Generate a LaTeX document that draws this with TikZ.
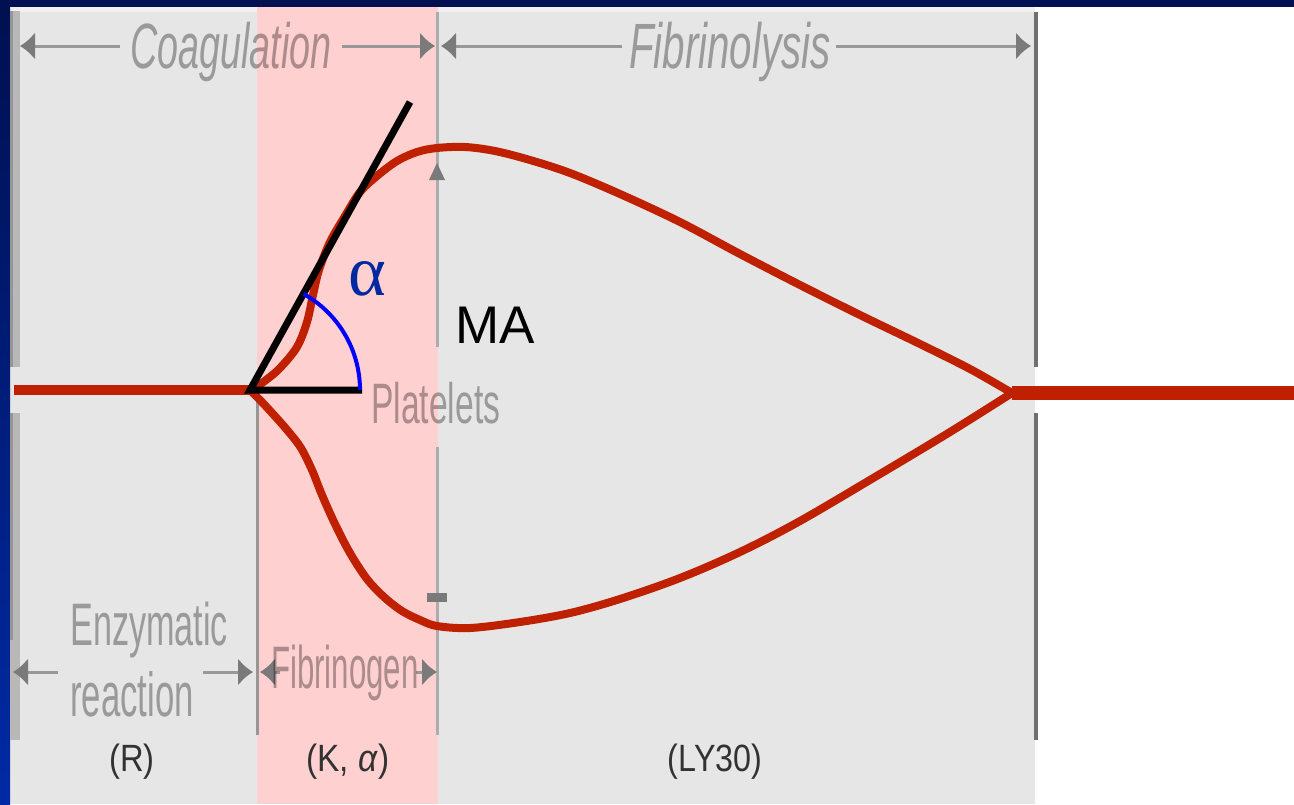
\documentclass[tikz,border=0pt]{standalone}
\usepackage{fontspec}
\setmainfont{Liberation Sans}
\newfontfamily\alphafont{Liberation Serif}
\usetikzlibrary{arrows.meta}
\definecolor{navy}{RGB}{0,16,80}
\definecolor{blueedge}{RGB}{0,42,165}
\definecolor{panel}{RGB}{230,230,230}
\definecolor{panellight}{RGB}{240,240,240}
\definecolor{pinkband}{RGB}{255,208,208}
\definecolor{curvered}{RGB}{190,32,0}
\definecolor{dimgray}{RGB}{152,152,152}
\definecolor{tipgray}{RGB}{122,122,122}
\definecolor{bargray}{RGB}{184,184,184}
\definecolor{bardark}{RGB}{150,150,150}
\definecolor{edgegray}{RGB}{112,112,112}
\definecolor{vlgray}{RGB}{172,172,172}
\definecolor{alphablue}{RGB}{0,40,160}
\definecolor{labeldark}{RGB}{50,50,50}
\begin{document}
\begin{tikzpicture}[x=1pt,y=-1pt,
  dimarrow/.style={draw=dimgray,line width=3pt,-{Latex[length=15pt,width=28pt,color=tipgray]}},
  faint/.style={inner sep=0pt,text=black,text opacity=0.33},
  lbl/.style={inner sep=0pt,text=labeldark,anchor=base},
  teg/.style={draw=curvered,line width=8pt,line join=round,line cap=round},
  tangent/.style={draw=black,line width=7pt},
  vline/.style={draw=vlgray,line width=3pt}]
\useasboundingbox (0,0) rectangle (1294,804);
% background
\fill[white] (0,0) rectangle (1294,804);
\fill[panel] (10,7) rectangle (1035,804);
\fill[panellight] (10,7) rectangle (1035,12);
\fill[pinkband] (257,7) rectangle (438,804);
\shade[top color=navy,bottom color=blueedge] (0,0) rectangle (10,804);
\fill[navy] (0,0) rectangle (1294,7);
% left and right edge bars
\fill[bargray] (10,11) rectangle (20,367);
\fill[bargray] (10,413) rectangle (20,740);
\fill[bardark] (10,11) rectangle (13,367);
\fill[bardark] (10,413) rectangle (13,640);
\fill[edgegray] (1034,12) rectangle (1038,367);
\fill[edgegray] (1034,413) rectangle (1038,740);
% vertical guide lines
\coordinate (k0) at (257,398);
\coordinate (k1) at (257,735);
\draw[vline,draw=bardark] (k0) -- (k1);
\coordinate (m0) at (437,12);
\coordinate (m1) at (437,347);
\coordinate (m2) at (437,447);
\coordinate (m3) at (437,735);
\draw[vline] (m0) -- (m1);
\draw[vline] (m2) -- (m3);
% MA arrow tips
\fill[tipgray] (437,163) -- (445,180) -- (429,180) -- cycle;
\fill[tipgray] (427,593) rectangle (447,602);
% top dimension arrows
\coordinate (ca) at (120,46); \coordinate (cb) at (20,46);
\coordinate (cc) at (342,46); \coordinate (cd) at (435,46);
\coordinate (fa) at (622,46); \coordinate (fb) at (441,46);
\coordinate (fc) at (836,46); \coordinate (fd) at (1031,46);
\draw[dimarrow] (ca) -- (cb);
\draw[dimarrow] (cc) -- (cd);
\draw[dimarrow] (fa) -- (fb);
\draw[dimarrow] (fc) -- (fd);
% bottom dimension arrows
\coordinate (ea) at (58,672); \coordinate (eb) at (13,672);
\coordinate (ec) at (203,672); \coordinate (ed) at (253,672);
\coordinate (ga) at (280,672); \coordinate (gb) at (260,672);
\coordinate (gc) at (416,672); \coordinate (gd) at (437,672);
\draw[dimarrow] (ea) -- (eb);
\draw[dimarrow] (ec) -- (ed);
\draw[dimarrow] (ga) -- (gb);
\draw[dimarrow] (gc) -- (gd);
% faint texts
\node[faint,anchor=base] (coag) at (231,68) {\scalebox{0.59}[1]{\fontsize{64}{64}\selectfont\itshape Coagulation}};
\node[faint,anchor=base] (fibl) at (730,68) {\scalebox{0.63}[1]{\fontsize{64}{64}\selectfont\itshape Fibrinolysis}};
\node[faint,anchor=base west] (enz) at (70,645) {\scalebox{0.57}[1]{\fontsize{60}{60}\selectfont Enzymatic}};
\node[faint,anchor=base west] (reac) at (70,716) {\scalebox{0.56}[1]{\fontsize{62}{62}\selectfont reaction}};
\node[faint,anchor=base west] (fgen) at (271,688) {\scalebox{0.52}[1]{\fontsize{60}{60}\selectfont Fibrinogen}};
\node[faint,anchor=base west] (plat) at (371,423) {\scalebox{0.59}[1]{\fontsize{57}{57}\selectfont Platelets}};
% bottom labels
\node[lbl] (rlab) at (132,771) {\scalebox{0.86}[1]{\fontsize{38}{38}\selectfont (R)}};
\node[lbl] (klab) at (348,771) {\scalebox{0.88}[1]{\fontsize{38}{38}\selectfont (K, \textit{α})}};
\node[lbl] (lylab) at (715,771) {\scalebox{0.85}[1]{\fontsize{38}{38}\selectfont (LY30)}};
% TEG trace
\coordinate (s0) at (14,390);
\coordinate (s1) at (252,390);
\coordinate (e0) at (1012,393);
\coordinate (e1) at (1294,393);
\draw[draw=curvered,line width=10pt] (s0) -- (s1);
\draw[draw=curvered,line width=14pt] (e0) -- (e1);
\draw[teg] plot[smooth,tension=0.55] coordinates {(252,390) (266,380) (280,368) (297,347) (307,322) (313,295) (319,270) (330,242) (345,216) (360,192) (377,176) (397,161) (417,152) (437,148) (465,147) (495,151) (530,160) (570,173) (620,194) (680,222) (740,254) (800,285) (860,315) (920,344) (970,369) (1012,393)};
\draw[teg] plot[smooth,tension=0.55] coordinates {(252,392) (260,400) (273,414) (288,431) (301,448) (312,470) (322,495) (335,524) (350,553) (367,579) (384,597) (402,611) (420,620) (437,626) (470,628) (520,622) (570,613) (620,599) (680,578) (740,552) (800,521) (880,474) (950,432) (1012,393)};
% tangent lines and angle
\coordinate (o) at (250,390);
\coordinate (t1) at (410,102);
\coordinate (t2) at (362,390);
\draw[tangent] (t1) -- (o) -- (t2);
\draw[draw=blue,line width=4pt] plot[domain=0:61,samples=40] ({250+110*cos(\x)},{390-110*sin(\x)});
\node[inner sep=0pt,anchor=base,text=alphablue] (alpha) at (367,295) {\fontsize{72}{72}\alphafont α};
\node[inner sep=0pt,anchor=base west] (ma) at (455,343) {\fontsize{53}{53}\selectfont MA};
\end{tikzpicture}
\end{document}
